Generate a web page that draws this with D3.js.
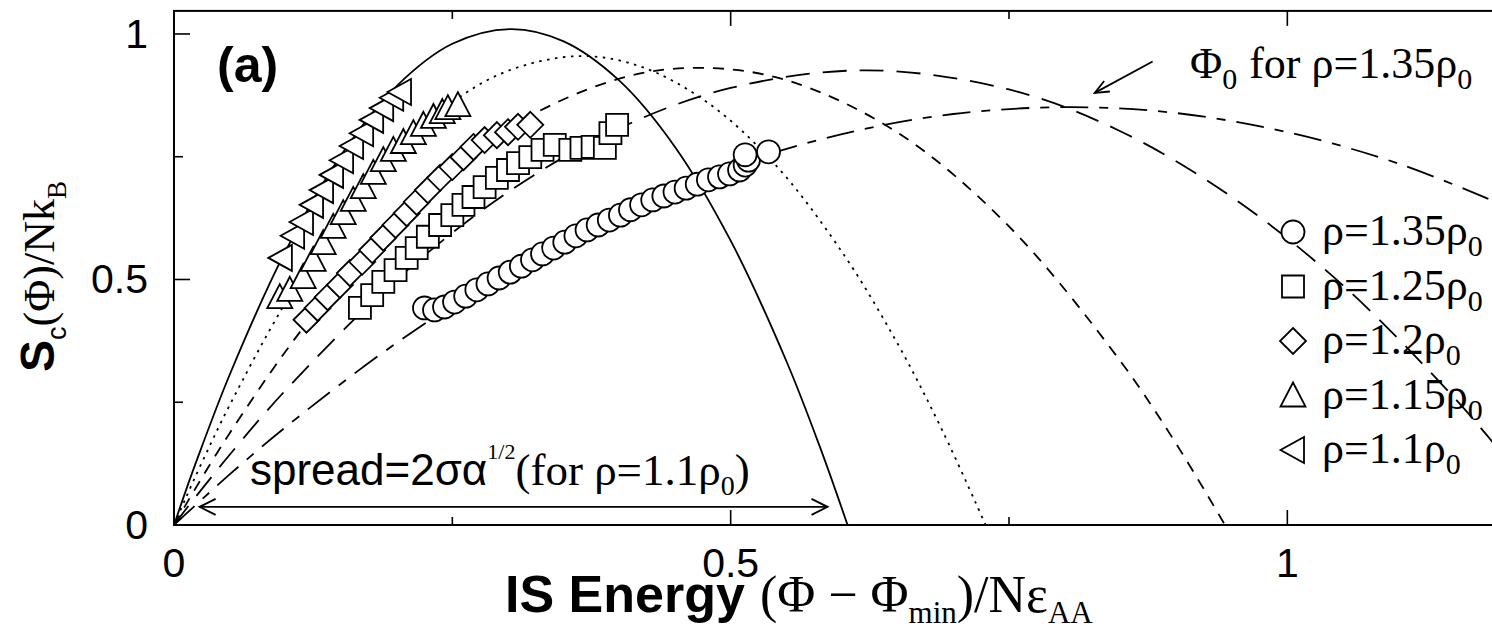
<!DOCTYPE html>
<html>
<head>
<meta charset="utf-8">
<script src="https://cdn.jsdelivr.net/npm/d3@7"></script>
<style>
  body { margin: 0; background: #fff; }
  svg { display: block; }
</style>
</head>
<body>
<div id="chart"></div>
<script>
var width = 1492, height = 631;

// theory curves S_c(e), one per density
var curveRho11  = [[0,0],[0.01,0.066],[0.02,0.129],[0.05,0.306],[0.1,0.557],[0.15,0.753],[0.2,0.894],[0.25,0.980],[0.3025,1.01],[0.35,0.985],[0.4,0.905],[0.45,0.770],[0.5,0.579],[0.55,0.334],[0.58,0.160],[0.605,0]];
var curveRho115 = [[0,0],[0.01,0.052],[0.025,0.127],[0.05,0.244],[0.1,0.452],[0.15,0.624],[0.2,0.760],[0.25,0.861],[0.3,0.925],[0.3645,0.955],[0.42,0.933],[0.48,0.859],[0.54,0.734],[0.6,0.556],[0.65,0.369],[0.69,0.193],[0.729,0]];
var curveRho12  = [[0,0],[0.01,0.039],[0.025,0.096],[0.05,0.187],[0.1,0.353],[0.15,0.498],[0.2,0.622],[0.3,0.807],[0.4,0.909],[0.472,0.931],[0.55,0.906],[0.65,0.799],[0.75,0.608],[0.85,0.334],[0.9,0.166],[0.944,0]];
var curveRho125 = [[0,0],[0.01,0.030],[0.025,0.073],[0.05,0.143],[0.1,0.274],[0.2,0.500],[0.3,0.678],[0.4,0.808],[0.5,0.890],[0.622,0.926],[0.75,0.887],[0.85,0.802],[0.95,0.668],[1.05,0.488],[1.15,0.259],[1.185,0.167]];
var curveRho135 = [[0,0],[0.01,0.021],[0.025,0.052],[0.05,0.103],[0.1,0.199],[0.2,0.371],[0.3,0.517],[0.4,0.636],[0.5,0.729],[0.6,0.796],[0.7,0.837],[0.804,0.851],[0.9,0.839],[1.0,0.800],[1.1,0.736],[1.185,0.660]];

// simulation points
var rho135 = [[0.225,0.442],[0.234,0.438],[0.243,0.444],[0.252,0.454],[0.262,0.466],[0.272,0.479],[0.282,0.491],[0.292,0.503],[0.302,0.515],[0.312,0.527],[0.322,0.540],[0.331,0.552],[0.341,0.564],[0.351,0.576],[0.361,0.589],[0.371,0.601],[0.381,0.611],[0.391,0.621],[0.401,0.631],[0.410,0.642],[0.420,0.652],[0.430,0.662],[0.440,0.670],[0.450,0.678],[0.460,0.686],[0.470,0.694],[0.480,0.703],[0.490,0.709],[0.499,0.715],[0.508,0.723],[0.513,0.733],[0.516,0.743],[0.513,0.754],[0.534,0.760]];
var rho125 = [[0.167,0.442],[0.178,0.468],[0.188,0.495],[0.199,0.519],[0.209,0.544],[0.218,0.564],[0.228,0.587],[0.239,0.611],[0.250,0.631],[0.260,0.652],[0.269,0.668],[0.279,0.688],[0.290,0.707],[0.300,0.723],[0.309,0.737],[0.320,0.749],[0.331,0.764],[0.342,0.774],[0.356,0.764],[0.366,0.768],[0.376,0.770],[0.387,0.768],[0.392,0.798],[0.398,0.815]];
var rho12  = [[0.119,0.418],[0.129,0.442],[0.138,0.464],[0.149,0.489],[0.158,0.513],[0.169,0.536],[0.178,0.560],[0.188,0.585],[0.199,0.611],[0.209,0.635],[0.218,0.658],[0.228,0.682],[0.239,0.707],[0.250,0.729],[0.260,0.749],[0.269,0.770],[0.279,0.784],[0.290,0.794],[0.300,0.800],[0.309,0.811],[0.320,0.815]];
var rho115 = [[0.095,0.464],[0.104,0.479],[0.116,0.505],[0.125,0.540],[0.134,0.574],[0.143,0.607],[0.152,0.635],[0.161,0.662],[0.170,0.688],[0.179,0.717],[0.188,0.743],[0.197,0.764],[0.206,0.780],[0.215,0.798],[0.224,0.815],[0.233,0.831],[0.241,0.841],[0.246,0.849],[0.255,0.855]];
var rho11  = [[0.096,0.544],[0.107,0.589],[0.115,0.617],[0.124,0.652],[0.133,0.682],[0.142,0.713],[0.151,0.743],[0.160,0.772],[0.169,0.798],[0.178,0.825],[0.187,0.849],[0.196,0.870],[0.203,0.882]];

var xTicks = [0, 0.25, 0.5, 0.75, 1];
var yTicks = [0, 0.25, 0.5, 0.75, 1];
var tickLabels = [0, 0.5, 1];
var legendNames = ["1.35", "1.25", "1.2", "1.15", "1.1"];

var svg = d3.select("#chart").append("svg")
    .attr("width", width)
    .attr("height", height)
    .attr("viewBox", "0 0 " + width + " " + height);

var x = d3.scaleLinear().domain([0, 1.185]).range([174, 1493.3]);
var y = d3.scaleLinear().domain([0, 1.047]).range([525, 10.9]);

var sans = "'Liberation Sans', Arial, Helvetica, sans-serif";
var serif = "'Liberation Serif', 'Times New Roman', serif";

svg.append("clipPath").attr("id", "plotclip")
  .append("rect")
    .attr("x", x(0)).attr("y", y(1.047))
    .attr("width", x(1.185) - x(0)).attr("height", y(0) - y(1.047));

// ticks (inward, both sides)
function isMajor(v) { return tickLabels.indexOf(v) >= 0; }
var ticks = svg.append("g").attr("stroke", "#000").attr("stroke-width", 1.6);
xTicks.forEach(function(v) {
  var len = isMajor(v) ? 15 : 8;
  ticks.append("line").attr("x1", x(v)).attr("x2", x(v)).attr("y1", y(0)).attr("y2", y(0) - len);
  ticks.append("line").attr("x1", x(v)).attr("x2", x(v)).attr("y1", y(1.047)).attr("y2", y(1.047) + len);
});
yTicks.forEach(function(v) {
  var len = isMajor(v) ? 16 : 9;
  ticks.append("line").attr("x1", x(0)).attr("x2", x(0) + len).attr("y1", y(v)).attr("y2", y(v));
});

// tick labels
svg.append("g").selectAll("text")
  .data(tickLabels).enter().append("text")
    .attr("x", function(d) { return x(d); })
    .attr("y", 577)
    .attr("text-anchor", "middle")
    .attr("font-family", sans).attr("font-size", "41px")
    .text(function(d) { return d; });
svg.append("g").selectAll("text")
  .data(tickLabels).enter().append("text")
    .attr("x", 148)
    .attr("y", function(d) { return y(d) + 14; })
    .attr("text-anchor", "end")
    .attr("font-family", sans).attr("font-size", "41px")
    .text(function(d) { return d; });

// curves
var line = d3.line()
    .x(function(d) { return x(d[0]); })
    .y(function(d) { return y(d[1]); })
    .curve(d3.curveCatmullRom.alpha(0.5));

var curves = [
  { data: curveRho11,  dash: null },
  { data: curveRho115, dash: "2.5,5.5" },
  { data: curveRho12,  dash: "11,9" },
  { data: curveRho125, dash: "24,13" },
  { data: curveRho135, dash: "28,11,9,11" }
];
var cg = svg.append("g").attr("clip-path", "url(#plotclip)");
curves.forEach(function(c) {
  cg.append("path")
    .attr("d", line(c.data))
    .attr("fill", "none")
    .attr("stroke", "#000")
    .attr("stroke-width", 1.8)
    .attr("stroke-dasharray", c.dash);
});

// marker shapes
function shapePath(type) {
  if (type == "circle") return d3.symbol(d3.symbolCircle, 415)();
  if (type == "square") return "M-11,-11h22v22h-22Z";
  if (type == "diamond") return "M0,-13L13,0L0,13L-13,0Z";
  if (type == "up") return "M0,-13L12.5,11L-12.5,11Z";
  return "M-12.5,0L11,-13L11,13Z";
}

var series = [
  { data: rho135, shape: "circle" },
  { data: rho125, shape: "square" },
  { data: rho12,  shape: "diamond" },
  { data: rho115, shape: "up" },
  { data: rho11,  shape: "left" }
];

series.forEach(function(s) {
  svg.append("g").selectAll("path")
    .data(s.data).enter().append("path")
      .attr("d", shapePath(s.shape))
      .attr("transform", function(d) { return "translate(" + x(d[0]) + "," + y(d[1]) + ")"; })
      .attr("fill", "#fff")
      .attr("stroke", "#000")
      .attr("stroke-width", 1.8);
});

// frame
svg.append("rect")
  .attr("x", x(0)).attr("y", y(1.047))
  .attr("width", x(1.185) - x(0)).attr("height", y(0) - y(1.047))
  .attr("fill", "none").attr("stroke", "#000").attr("stroke-width", 2);

// legend
var legend = svg.append("g");
series.forEach(function(s, i) {
  var ly = 232 + i * 54.5;
  legend.append("path")
    .attr("d", shapePath(s.shape))
    .attr("transform", "translate(1293," + ly + ")")
    .attr("fill", "#fff").attr("stroke", "#000").attr("stroke-width", 1.8);
  var t = legend.append("text")
    .attr("x", 1322).attr("y", ly + 13)
    .attr("font-family", serif).attr("font-size", "44px");
  t.append("tspan").text("\u03c1=" + legendNames[i] + "\u03c1");
  t.append("tspan").attr("font-size", "30px").attr("dy", 11).text("0");
});

// panel label
svg.append("text")
  .attr("x", 217).attr("y", 82)
  .attr("font-family", sans).attr("font-weight", "bold").attr("font-size", "50px")
  .text("(a)");

// Phi_0 annotation
var ann = svg.append("text")
  .attr("x", 1190).attr("y", 78)
  .attr("font-family", serif).attr("font-size", "44px");
ann.append("tspan").text("\u03a6");
ann.append("tspan").attr("font-size", "30px").attr("dy", 11).text("0");
ann.append("tspan").attr("dy", -11).attr("dx", 12).text("for \u03c1=1.35\u03c1");
ann.append("tspan").attr("font-size", "30px").attr("dy", 11).text("0");

function arrowHead(px, py, angle, len, half) {
  var c = Math.cos(angle), s = Math.sin(angle);
  var bx = px - len * c, by = py - len * s;
  return "M" + (bx - half * s) + "," + (by + half * c) + "L" + px + "," + py + "L" + (bx + half * s) + "," + (by - half * c);
}

var annArrow = svg.append("g").attr("fill", "none").attr("stroke", "#000").attr("stroke-width", 1.8);
var ax1 = x(0.879), ay1 = y(0.944), ax2 = x(0.827), ay2 = y(0.880);
annArrow.append("line").attr("x1", ax1).attr("y1", ay1).attr("x2", ax2).attr("y2", ay2);
annArrow.append("path").attr("d", arrowHead(ax2, ay2, Math.atan2(ay2 - ay1, ax2 - ax1), 14, 6));

// spread annotation
var sx1 = x(0.023), sx2 = x(0.587), sy = y(0.037);
annArrow.append("line").attr("x1", sx1).attr("y1", sy).attr("x2", sx2).attr("y2", sy);
annArrow.append("path").attr("d", arrowHead(sx2, sy, 0, 16, 8));
annArrow.append("path").attr("d", arrowHead(sx1, sy, Math.PI, 16, 8));

var sp = svg.append("text")
  .attr("x", 250).attr("y", 485)
  .attr("font-family", sans).attr("font-size", "44px");
sp.append("tspan").text("spread=2\u03c3\u03b1");
sp.append("tspan").attr("font-family", serif).attr("font-size", "22px").attr("dy", -26).text("1/2");
sp.append("tspan").attr("font-family", serif).attr("font-size", "45px").attr("dy", 26).text("(for \u03c1=1.1\u03c1");
sp.append("tspan").attr("font-family", serif).attr("font-size", "28px").attr("dy", 10).text("0");
sp.append("tspan").attr("font-family", serif).attr("font-size", "45px").attr("dy", -10).text(")");

// x axis title
var xt = svg.append("text")
  .attr("x", 505).attr("y", 612)
  .attr("font-family", serif).attr("font-size", "52px");
xt.append("tspan").attr("font-family", sans).attr("font-weight", "bold").attr("font-size", "52px").text("IS Energy");
xt.append("tspan").attr("dx", 15).text("(\u03a6 \u2212 \u03a6");
xt.append("tspan").attr("font-size", "31px").attr("dy", 11).text("min");
xt.append("tspan").attr("dy", -11).text(")/N\u03b5");
xt.append("tspan").attr("font-size", "31px").attr("dy", 11).text("AA");

// y axis title
var yt = svg.append("text")
  .attr("transform", "translate(54,372) rotate(-90)")
  .attr("font-family", serif).attr("font-size", "44px");
yt.append("tspan").attr("font-family", sans).attr("font-weight", "bold").attr("font-size", "48px").text("S");
yt.append("tspan").attr("font-family", sans).attr("font-size", "27px").attr("dy", 12).text("c");
yt.append("tspan").attr("dy", -12).text("(\u03a6)/Nk");
yt.append("tspan").attr("font-size", "27px").attr("dy", 12).text("B");
</script>
</body>
</html>
